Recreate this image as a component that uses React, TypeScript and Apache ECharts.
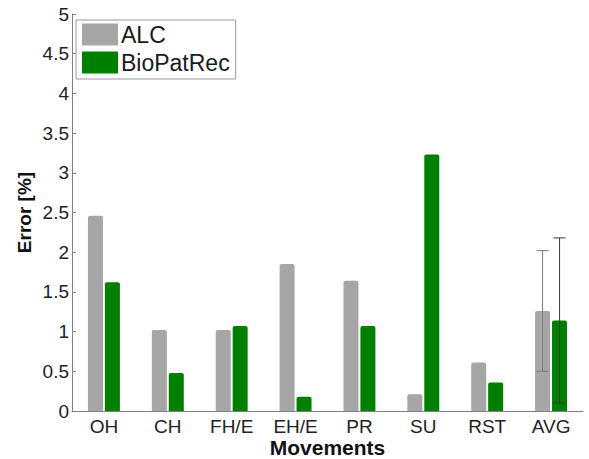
import React, { useEffect, useRef } from "react";
import * as echarts from "echarts";

// Classification error per movement for the two systems
const movements = ["OH", "CH", "FH/E", "EH/E", "PR", "SU", "RST", "AVG"];
const alcError = [2.46, 1.02, 1.02, 1.85, 1.64, 0.21, 0.61, 1.26];
const bioPatRecError = [1.62, 0.48, 1.07, 0.18, 1.07, 3.23, 0.36, 1.14];
// Standard deviation shown on the AVG bars only
const alcStd = [null, null, null, null, null, null, null, 0.76];
const bioPatRecStd = [null, null, null, null, null, null, null, 1.04];

const BAR_WIDTH = 15;
const BAR_GAP = 2;
const FONT = "'Liberation Sans', Arial, Helvetica, sans-serif";

function errorBarSeries(
  name: string,
  means: number[],
  stds: (number | null)[],
  offset: number,
  color: string
) {
  const data = means
    .map((m, i) => (stds[i] == null ? null : [i, m - (stds[i] as number), m + (stds[i] as number)]))
    .filter((d) => d !== null);
  return {
    type: "custom",
    name,
    z: 5,
    silent: true,
    data,
    renderItem: (_params: any, api: any) => {
      const idx = api.value(0);
      const lo = api.coord([idx, api.value(1)]);
      const hi = api.coord([idx, api.value(2)]);
      const x = lo[0] + offset;
      const cap = 6;
      const style = { stroke: color, lineWidth: 1, fill: "none" };
      return {
        type: "group",
        children: [
          { type: "line", shape: { x1: x, y1: lo[1], x2: x, y2: hi[1] }, style },
          { type: "line", shape: { x1: x - cap, y1: lo[1], x2: x + cap, y2: lo[1] }, style },
          { type: "line", shape: { x1: x - cap, y1: hi[1], x2: x + cap, y2: hi[1] }, style },
        ],
      };
    },
  };
}

export default function App() {
  const ref = useRef<HTMLDivElement>(null);

  useEffect(() => {
    if (!ref.current) return;
    const chart = echarts.init(ref.current, null, { renderer: "svg" });
    const half = (BAR_WIDTH + BAR_GAP) / 2;
    chart.setOption({
      animation: false,
      backgroundColor: "#ffffff",
      grid: { left: 72, right: 6, top: 14, bottom: 48, outerBoundsMode: "none" },
      legend: {
        orient: "vertical",
        left: 76,
        top: 20,
        padding: [3, 6, 5, 6],
        itemGap: 5,
        itemWidth: 36,
        itemHeight: 22,
        borderColor: "#9a9a9a",
        borderWidth: 1,
        backgroundColor: "#ffffff",
        icon: "rect",
        textStyle: { fontFamily: FONT, fontSize: 23, color: "#1a1a1a", padding: [0, 0, 0, -2] },
        data: ["ALC", "BioPatRec"],
      },
      xAxis: {
        type: "category",
        data: movements,
        boundaryGap: true,
        axisLine: { lineStyle: { color: "#808080", width: 1 } },
        axisTick: { show: false },
        axisLabel: { fontFamily: FONT, fontSize: 19, color: "#222", margin: 6 },
        name: "Movements",
        nameLocation: "middle",
        nameMoveOverlap: false,
        nameGap: 26,
        nameTextStyle: { fontFamily: FONT, fontSize: 21, fontWeight: "bold", color: "#111" },
      },
      yAxis: {
        type: "value",
        min: 0,
        max: 5,
        interval: 0.5,
        splitLine: { show: false },
        axisLine: { show: true, lineStyle: { color: "#808080", width: 1 } },
        axisTick: { show: true, inside: true, length: 4, lineStyle: { color: "#808080" } },
        axisLabel: { fontFamily: FONT, fontSize: 19, color: "#222", margin: 3 },
        name: "Error [%]",
        nameLocation: "middle",
        nameMoveOverlap: false,
        nameGap: 38,
        nameTextStyle: { fontFamily: FONT, fontSize: 19, fontWeight: "bold", color: "#111" },
      },
      series: [
        {
          type: "bar",
          name: "ALC",
          data: alcError,
          barWidth: BAR_WIDTH,
          barGap: `${Math.round((BAR_GAP / BAR_WIDTH) * 100)}%`,
          itemStyle: { color: "#a6a6a6", borderRadius: [2, 2, 0, 0] },
        },
        {
          type: "bar",
          name: "BioPatRec",
          data: bioPatRecError,
          barWidth: BAR_WIDTH,
          itemStyle: { color: "#007f00", borderRadius: [2, 2, 0, 0] },
        },
        errorBarSeries("ALC std", alcError, alcStd, -half, "#7a7a7a"),
        errorBarSeries("BioPatRec std", bioPatRecError, bioPatRecStd, half, "#3a3a3a"),
      ],
    });
    return () => chart.dispose();
  }, []);

  return (
    <div
      ref={ref}
      style={{ position: "absolute", left: 0, top: 0, width: 589, height: 459 }}
    />
  );
}
